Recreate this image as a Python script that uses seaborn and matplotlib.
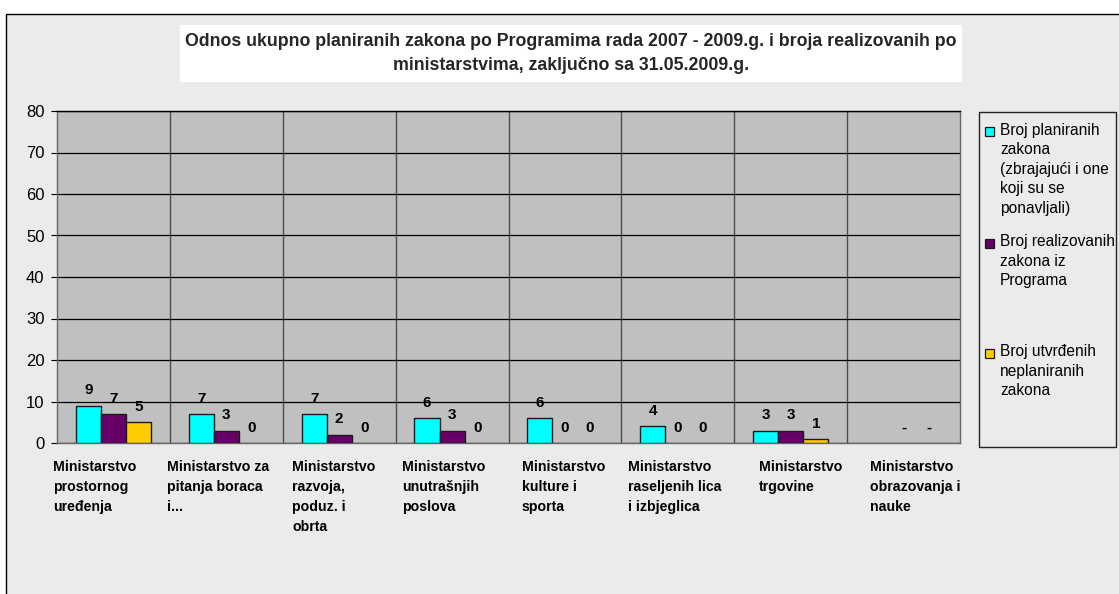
import numpy as np
import pandas as pd
import matplotlib
matplotlib.use("Agg")
import matplotlib.pyplot as plt
import matplotlib.transforms as mtransforms
from matplotlib.patches import Rectangle
import seaborn as sns

# chart data
ministries = [
    "Ministarstvo\nprostornog\nuređenja",
    "Ministarstvo za\npitanja boraca\ni...",
    "Ministarstvo\nrazvoja,\npoduz. i\nobrta",
    "Ministarstvo\nunutrašnjih\nposlova",
    "Ministarstvo\nkulture i\nsporta",
    "Ministarstvo\nraseljenih lica\ni izbjeglica",
    "Ministarstvo\ntrgovine",
    "Ministarstvo\nobrazovanja i\nnauke",
]
planned = [9, 7, 7, 6, 6, 4, 3, np.nan]
realized = [7, 3, 2, 3, 0, 0, 3, np.nan]
unplanned = [5, 0, 0, 0, 0, 0, 1, np.nan]

series_labels = [
    "Broj planiranih\nzakona\n(zbrajajući i one\nkoji su se\nponavljali)",
    "Broj realizovanih\nzakona iz\nPrograma",
    "Broj utvrđenih\nneplaniranih\nzakona",
]
colors = ["#00ffff", "#660066", "#ffcc00"]
yticks = list(range(0, 90, 10))

# label start offsets (category units) for the wrapped category names
label_offsets = [-0.535, -0.525, -0.418, -0.443, -0.38, -0.441, -0.281, -0.297]

W, H = 1119, 594

sns.set_theme(style="white")
plt.rcParams["font.family"] = ["Liberation Sans", "DejaVu Sans"]

df = pd.DataFrame({
    "ministry": ministries * 3,
    "series": [series_labels[0]] * 8 + [series_labels[1]] * 8 + [series_labels[2]] * 8,
    "value": planned + realized + unplanned,
})
df["plot_value"] = df["value"].fillna(0)

fig = plt.figure(figsize=(W / 100, H / 100), dpi=100)
fig.patch.set_facecolor("white")

# chart area background with border
fig.patches.append(Rectangle((6 / W, -0.1), 1.2, 1.1 - 14 / H, transform=fig.transFigure,
                             facecolor="#ebebeb", edgecolor="black", linewidth=1, zorder=-10))

ax = fig.add_axes([57 / W, 1 - 443 / H, 903 / W, 332 / H])
ax.set_facecolor("#c0c0c0")

sns.barplot(data=df, x="ministry", y="plot_value", hue="series", hue_order=series_labels,
            palette=colors, width=0.667, saturation=1, errorbar=None,
            edgecolor="#1a1a1a", linewidth=1, legend=False, ax=ax, zorder=3)

# empty bars get no outline
for p in ax.patches:
    if p.get_height() == 0:
        p.set_linewidth(0)

ax.set_xlim(-0.5, 7.5)
ax.set_ylim(0, 80)
ax.set_yticks(yticks)
ax.set_xlabel("")
ax.set_ylabel("")
ax.set_xticks(range(len(ministries)))
ax.set_xticklabels([])
ax.set_xticks(np.arange(0.5, len(ministries) - 0.5, 1), minor=True)

ax.yaxis.grid(True, color="black", linewidth=0.9, zorder=1)
ax.xaxis.grid(True, which="minor", color="#4d4d4d", linewidth=1, zorder=1)
ax.xaxis.grid(False, which="major")
ax.set_axisbelow(True)
ax.tick_params(axis="x", which="both", length=0)
ax.tick_params(axis="y", left=True, length=4, width=0.8, color="black", pad=5,
               labelsize=12, labelcolor="black")
for s in ax.spines.values():
    s.set_color("#666666")
    s.set_linewidth(1)
ax.spines["top"].set_color("black")

# value labels
value_series = [planned, realized, unplanned]
for k, cont in enumerate(ax.containers):
    labs = []
    for v in value_series[k]:
        if np.isnan(v):
            labs.append("" if k == 0 else "-")
        else:
            labs.append(str(int(v)))
    ax.bar_label(cont, labels=labs, padding=6, fontsize=11, fontweight="bold", color="black")

# category names, left aligned blocks
trans = mtransforms.blended_transform_factory(ax.transData, ax.transAxes)
for i, name in enumerate(ministries):
    ax.text(i + label_offsets[i], -0.05, name, transform=trans, ha="left", va="top",
            fontsize=10.2, fontweight="bold", linespacing=1.55, color="black")

# title box
fig.patches.append(Rectangle((180 / W, 1 - 82 / H), 782 / W, 57 / H, transform=fig.transFigure,
                             facecolor="white", edgecolor="none", zorder=1))
fig.text(571 / W, 1 - 53.5 / H,
         "Odnos ukupno planiranih zakona po Programima rada 2007 - 2009.g. i broja realizovanih po\n"
         "ministarstvima, zaključno sa 31.05.2009.g.",
         ha="center", va="center", fontsize=12.8, fontweight="bold", linespacing=1.55, zorder=2)

# legend box
fig.patches.append(Rectangle((979 / W, 1 - 447 / H), 137 / W, 335 / H, transform=fig.transFigure,
                             facecolor="none", edgecolor="#222222", linewidth=1, zorder=2))
entry_y = [131.5, 243, 353]
for k, lab in enumerate(series_labels):
    yc = entry_y[k]
    fig.patches.append(Rectangle((985 / W, 1 - (yc + 4.5) / H), 9 / W, 9 / H,
                                 transform=fig.transFigure, facecolor=colors[k],
                                 edgecolor="#1a1a1a", linewidth=0.9, zorder=3))
    fig.text(1000 / W, 1 - (yc - 9) / H, lab, ha="left", va="top", fontsize=11.2,
             linespacing=1.38, color="black")

fig.savefig("out.png", dpi=100)
